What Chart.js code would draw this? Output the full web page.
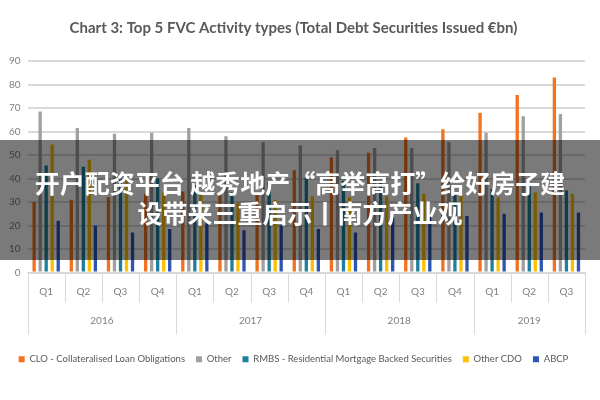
<!DOCTYPE html>
<html>
<head>
<meta charset="utf-8">
<script src="https://cdn.jsdelivr.net/npm/chart.js@4.4.0/dist/chart.umd.min.js"></script>
<style>
  html, body { margin: 0; padding: 0; background: #ffffff; }
  #wrap { position: relative; width: 600px; height: 400px; }
  #banner {
    position: absolute; left: 0; top: 140px; width: 600px; height: 120px;
    background: rgba(0, 0, 0, 0.52);
    color: #ffffff;
    font-family: "Noto Sans CJK SC", sans-serif;
    font-weight: 700; font-size: 25px; line-height: 30px;
    text-align: center;
    box-sizing: border-box; padding-top: 27px;
  }
</style>
</head>
<body>
<div id="wrap">
  <canvas id="chart" width="600" height="400"></canvas>
  <div id="banner">开户配资平台 越秀地产“高举高打”给好房子建<br>设带来三重启示丨南方产业观</div>
</div>
<script>
const quarters = ['Q1', 'Q2', 'Q3', 'Q4', 'Q1', 'Q2', 'Q3', 'Q4', 'Q1', 'Q2', 'Q3', 'Q4', 'Q1', 'Q2', 'Q3'];
const years = ['2016', '2017', '2018', '2019'];
const quartersPerYear = [4, 4, 4, 3];

const clo = [30, 31, 32, 33.5, 34.5, 34, 34, 43.5, 49, 51, 57.5, 61, 68, 75.5, 83];
const other = [68.5, 61.5, 59, 59.5, 61.5, 58, 55.5, 54, 52, 53, 53, 55.5, 59.5, 66.5, 67.5];
const rmbs = [45.5, 45, 40, 40, 37, 34, 38.5, 40.5, 39, 38.5, 38, 33.5, 35.5, 37, 35];
const otherCdo = [54.5, 48, 42, 34, 33.5, 29.5, 31, 32.5, 32, 32.5, 33.5, 33, 32, 34, 33.5];
const abcp = [22, 20, 17, 18.5, 21, 18, 20, 18.5, 17, 23.5, 24, 24, 25, 25.5, 25.5];

const lineColor = '#d9d9d9';
const textColor = '#7f7f7f';

// year labels + category separators under the x axis
const yearAxis = {
  id: 'yearAxis',
  afterDraw(chart) {
    const ctx = chart.ctx;
    const x = chart.scales.x;
    const bottom = chart.chartArea.bottom;
    const edge = (i) => {
      if (i <= 0) return x.left;
      if (i >= quarters.length) return x.right;
      return (x.getPixelForValue(i - 1) + x.getPixelForValue(i)) / 2;
    };
    const yearStarts = [];
    let n = 0;
    quartersPerYear.forEach((c) => { yearStarts.push(n); n += c; });
    yearStarts.push(n);

    ctx.save();
    ctx.strokeStyle = lineColor;
    ctx.lineWidth = 1;
    for (let i = 0; i <= quarters.length; i++) {
      const px = Math.round(edge(i)) + 0.5;
      const long = yearStarts.includes(i);
      ctx.beginPath();
      ctx.moveTo(px, bottom);
      ctx.lineTo(px, bottom + (long ? 62 : 30));
      ctx.stroke();
    }
    ctx.fillStyle = textColor;
    ctx.font = '10px Lato, sans-serif';
    ctx.textAlign = 'center';
    ctx.textBaseline = 'middle';
    years.forEach((y, k) => {
      const cx = (edge(yearStarts[k]) + edge(yearStarts[k + 1])) / 2;
      ctx.fillText(y, cx, bottom + 48);
    });
    ctx.restore();
  }
};

new Chart(document.getElementById('chart'), {
  type: 'bar',
  data: {
    labels: quarters,
    datasets: [
      { label: 'CLO - Collateralised Loan Obligations', data: clo, backgroundColor: '#f2721f' },
      { label: 'Other', data: other, backgroundColor: '#a0a0a0' },
      { label: 'RMBS - Residential Mortgage Backed Securities', data: rmbs, backgroundColor: '#1f7fa0' },
      { label: 'Other CDO', data: otherCdo, backgroundColor: '#ffc000' },
      { label: 'ABCP', data: abcp, backgroundColor: '#2f55b5' }
    ]
  },
  options: {
    responsive: false,
    animation: false,
    devicePixelRatio: 1,
    layout: { padding: { left: 2, right: 15, top: 0, bottom: 26 } },
    datasets: { bar: { categoryPercentage: 0.81, barPercentage: 0.55 } },
    scales: {
      x: {
        grid: { display: false, drawTicks: false },
        border: { display: true, color: lineColor },
        ticks: { color: textColor, font: { family: 'Lato', size: 10 }, padding: 13, maxRotation: 0 },
        afterFit(scale) { scale.height = 71; }
      },
      y: {
        min: 0, max: 90,
        ticks: { stepSize: 10, color: textColor, font: { family: 'Lato', size: 10 }, padding: 7 },
        grid: { color: lineColor, lineWidth: 2, drawTicks: false },
        border: { display: false }
      }
    },
    plugins: {
      title: {
        display: true,
        text: 'Chart 3: Top 5 FVC Activity types (Total Debt Securities Issued €bn)',
        color: '#595959',
        font: { family: 'Lato', size: 15, weight: 'bold' },
        padding: { top: 19, bottom: 24 }
      },
      legend: {
        position: 'bottom',
        labels: {
          boxWidth: 6, boxHeight: 6, padding: 11,
          color: '#595959',
          font: { family: 'Lato', size: 9.5 }
        }
      },
      tooltip: { enabled: false }
    }
  },
  plugins: [yearAxis]
});
</script>
</body>
</html>
